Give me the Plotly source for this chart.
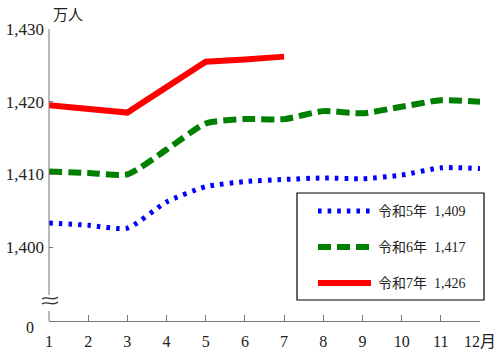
import plotly.graph_objects as go

# ---- data ----
months = [1, 2, 3, 4, 5, 6, 7, 8, 9, 10, 11, 12]
month_labels = ["1", "2", "3", "4", "5", "6", "7", "8", "9", "10", "11", "12月"]
r5_values = [1403.3, 1403.0, 1402.6, 1406.2, 1408.3, 1409.0, 1409.3, 1409.5, 1409.4, 1409.9, 1410.9, 1410.8]
r6_values = [1410.4, 1410.2, 1410.0, 1413.4, 1417.0, 1417.6, 1417.6, 1418.7, 1418.4, 1419.3, 1420.2, 1420.0]
r7_months = [1, 2, 3, 4, 5, 6, 7]
r7_values = [1419.5, 1419.0, 1418.5, 1422.0, 1425.5, 1425.8, 1426.2]
series_names = ["令和5年", "令和6年", "令和7年"]
series_avgs = ["1,409", "1,417", "1,426"]
y_tickvals = [1400, 1410, 1420, 1430]
y_ticktext = ["1,400", "1,410", "1,420", "1,430"]

# ---- layout geometry (pixels) ----
W, H = 500, 356
L, R, T, B = 49, 20, 29, 35
PW, PH = W - L - R, H - T - B
Y_BOTTOM = 1389.82
Y_TOP = 1430


def px(x):
    return (x - L) / PW


def py(y):
    return (H - B - y) / PH


FONT = "'Liberation Serif', 'Noto Sans CJK JP', serif"
TXT = "#222222"
AX = "#777777"

blue_style = dict(color="#0000FF", width=5, dash="3.6px,6px")
green_style = dict(color="#008000", width=6, dash="13px,6px")
red_style = dict(color="#FF0000", width=6)

fig = go.Figure()
fig.add_trace(go.Scatter(x=months, y=r5_values, mode="lines", name=series_names[0],
                         line=dict(shape="spline", smoothing=0.6, **blue_style)))
fig.add_trace(go.Scatter(x=months, y=r6_values, mode="lines", name=series_names[1],
                         line=dict(shape="spline", smoothing=0.6, **green_style)))
fig.add_trace(go.Scatter(x=r7_months, y=r7_values, mode="lines", name=series_names[2],
                         line=red_style))

shapes = []
# y-axis with break
shapes.append(dict(type="line", xref="paper", yref="paper", x0=0, x1=0, y0=1, y1=py(295),
                   line=dict(color=AX, width=1)))
shapes.append(dict(type="line", xref="paper", yref="paper", x0=0, x1=0, y0=py(311), y1=0,
                   line=dict(color=AX, width=1)))
# break marks
for dy in (0, 5):
    p = "M{},{} C{},{} {},{} {},{}".format(
        px(42), py(299 + dy), px(48), py(295 + dy), px(52), py(302 + dy), px(58), py(297 + dy))
    shapes.append(dict(type="path", xref="paper", yref="paper", path=p,
                       line=dict(color="#333333", width=1.3)))
# legend box
shapes.append(dict(type="rect", xref="paper", yref="paper", x0=px(297), x1=px(484),
                   y0=py(300), y1=py(193), line=dict(color="#000000", width=1.2),
                   fillcolor="white", layer="above"))

annotations = []
sample_y = [211, 247, 283]
styles = [blue_style, green_style, red_style]
for i in range(3):
    shapes.append(dict(type="line", xref="paper", yref="paper", x0=px(318), x1=px(371),
                       y0=py(sample_y[i]), y1=py(sample_y[i]), line=styles[i], layer="above"))
    annotations.append(dict(xref="paper", yref="paper", x=px(376), y=py(sample_y[i]),
                            xanchor="left", yanchor="middle", showarrow=False,
                            text=series_names[i] + "  " + series_avgs[i],
                            font=dict(family=FONT, size=14, color=TXT)))

annotations.append(dict(xref="paper", yref="paper", x=px(51), y=py(15), xanchor="left",
                        yanchor="middle", showarrow=False, text="万人",
                        font=dict(family=FONT, size=15, color=TXT)))
annotations.append(dict(xref="paper", yref="paper", x=px(30), y=py(327), xanchor="center",
                        yanchor="middle", showarrow=False, text="0",
                        font=dict(family=FONT, size=16, color=TXT)))

fig.update_layout(
    width=W, height=H,
    margin=dict(l=L, r=R, t=T, b=B, autoexpand=False),
    paper_bgcolor="white", plot_bgcolor="white",
    showlegend=False,
    shapes=shapes, annotations=annotations,
    font=dict(family=FONT, size=15, color=TXT),
    xaxis=dict(range=[1, 12], tickvals=months, ticktext=month_labels, automargin=False,
               showgrid=False, zeroline=False, showline=True, linecolor=AX, linewidth=1,
               ticks="inside", ticklen=6, tickcolor=AX, ticklabelstandoff=6,
               tickfont=dict(family=FONT, size=16, color=TXT)),
    yaxis=dict(range=[Y_BOTTOM, Y_TOP], tickvals=y_tickvals, ticktext=y_ticktext, automargin=False,
               showgrid=False, zeroline=False, showline=False,
               ticks="inside", ticklen=4, tickcolor=AX, ticklabelstandoff=4,
               tickfont=dict(family=FONT, size=17, color=TXT)),
)

fig.write_html("out.html", config={"displayModeBar": False},
               post_script="document.body.style.margin='0';")
